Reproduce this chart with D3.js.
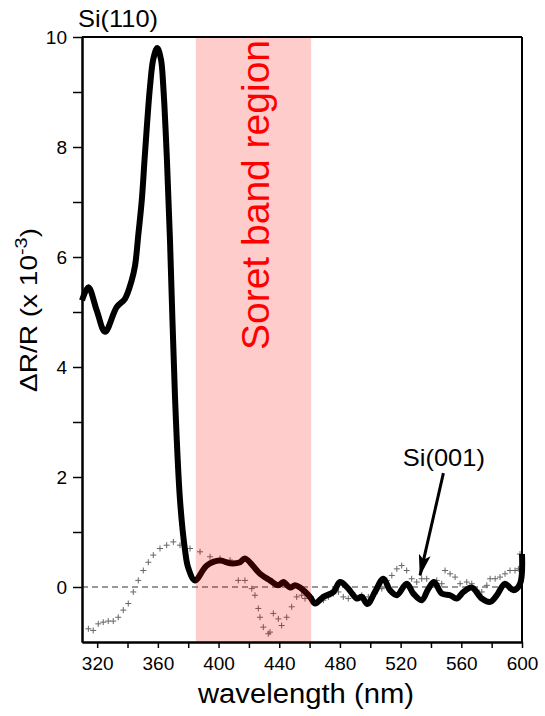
<!DOCTYPE html>
<html>
<head>
<meta charset="utf-8">
<script src="https://d3js.org/d3.v7.min.js"></script>
<style>
  body { margin: 0; background: #fff; }
  text { font-family: Arial, "Liberation Sans", sans-serif; }
</style>
</head>
<body>
<svg id="chart" width="545" height="716"></svg>
<script>
// Si(110) spectrum (thick black line)
var si110Wl  = [310, 314.2, 319.7, 325.2, 332.9, 338.3, 342.8, 345, 347.1, 349.4, 351.5, 354.8, 357, 359.6, 362, 363.6, 365.8, 368, 371.3, 374.6, 377.9, 380, 384.5,
                392.2, 401, 407.6, 414.2, 417.4, 427.3, 433.9, 439.4, 442.7, 447.1, 450.4, 453.7, 460.3,
                463.6, 469.1, 475.7, 480.1, 485.5, 491.1, 494.4, 498.1, 503.1, 508.6, 513, 517.5, 524, 528.4, 533.9, 538.3, 542, 547.1,
                552.6, 557, 561.4, 566.9, 573.5, 579, 583.4, 588.8, 594.3, 598.7, 600];
var si110Val = [5.21, 5.45, 5.03, 4.64, 5.09, 5.24, 5.58, 5.85, 6.4, 7.03, 7.88, 9.09, 9.6, 9.8, 9.6, 9.09, 7.88, 6.3, 3.45, 1.58, 0.67, 0.35, 0.12,
                0.39, 0.48, 0.43, 0.45, 0.52, 0.24, 0.12, 0.03, 0.09, -0.01, 0.03, -0.01, -0.18,
                -0.30, -0.18, -0.09, 0.09, -0.03, -0.21, -0.18, -0.31, -0.09, 0.15, -0.06, -0.15, 0.06, -0.12, -0.24, -0.03, 0.09, -0.12,
                -0.15, -0.21, -0.09, -0.01, -0.21, -0.27, -0.15, 0.06, -0.06, 0.06, 0.6];

// Si(001) spectrum (grey crosses)
var si001Wl  = [314.2, 317.4, 320.7, 324.0, 327.3, 330.6, 333.9, 337.2, 340.5, 343.8, 347.1, 350.4, 353.7, 357.0, 361.4, 365.8, 370.2, 374.6,
                381.2, 387.8, 394.4, 401.0, 407.6, 413.0, 417.4, 421.9, 424.0, 426.2, 427.3, 429.5, 432.8, 433.9, 436.1, 439.4, 441.6,
                444.9, 448.2, 451.5, 454.8, 457.0, 461, 465.8, 469.1, 472.4, 475.7, 479.0, 482.2, 485.5, 489.9, 494.4, 498.7, 503.1,
                507.6, 510.9, 514.2, 517.5, 520.7, 524.0, 527.3, 530.6, 533.9, 537.2, 543.8, 547.1, 549.3, 552.6, 555.9, 559.2, 563.6,
                566.9, 570.2, 573.5, 576.8, 579.0, 582.3, 585.5, 588.8, 592.1, 595.4, 597.6, 598.7];
var si001Val = [-0.76, -0.79, -0.67, -0.64, -0.62, -0.62, -0.55, -0.42, -0.30, -0.09, 0.12, 0.30, 0.45, 0.58, 0.70, 0.76, 0.82, 0.76,
                0.70, 0.64, 0.55, 0.52, 0.49, 0.12, 0.12, -0.03, -0.15, -0.39, -0.55, -0.73, -0.85, -0.82, -0.48, -0.58, -0.70,
                -0.55, -0.36, -0.18, -0.15, -0.21, -0.18, -0.24, -0.24, -0.18, -0.12, -0.09, -0.18, -0.21, -0.15, -0.15, -0.18, -0.12,
                -0.03, 0.12, 0.21, 0.33, 0.39, 0.30, 0.15, 0.09, 0.15, 0.15, 0.12, 0.06, 0.30, 0.24, 0.18, 0.06, 0.09,
                0.06, -0.06, -0.09, 0.03, 0.15, 0.15, 0.18, 0.24, 0.30, 0.30, 0.33, 0.6];

var xTicks = [320, 360, 400, 440, 480, 520, 560, 600];
var xMinor = [340, 380, 420, 460, 500, 540, 580];
var yTicks = [0, 2, 4, 6, 8, 10];
var yMinor = [1, 3, 5, 7, 9];
var soretBand = [385, 461];
// arrow for the Si(001) label: [wavelength, value] of tail and tip
var arrowTail = [548.2, 2.07], arrowTip = [532.8, 0.21];

var margin = {left: 82, top: 37, right: 23, bottom: 74};
var W = 545 - margin.left - margin.right,
    H = 716 - margin.top - margin.bottom;

var svg = d3.select("#chart");
var g = svg.append("g").attr("transform", "translate(" + margin.left + "," + margin.top + ")");

var x = d3.scaleLinear().domain([310, 600]).range([0, W]);
var y = d3.scaleLinear().domain([-1, 10]).range([H, 0]);

// zero line
g.append("line")
    .attr("x1", 0).attr("x2", W)
    .attr("y1", y(0)).attr("y2", y(0))
    .attr("stroke", "#333").attr("stroke-width", 1.2)
    .attr("stroke-dasharray", "6,4");

// Si(001) crosses
g.append("g").selectAll("path")
    .data(si001Wl.map(function(w, i) { return [w, si001Val[i]]; }))
    .enter().append("path")
    .attr("transform", function(d) { return "translate(" + x(d[0]) + "," + y(d[1]) + ")"; })
    .attr("d", "M-3,0H3M0,-3V3")
    .attr("stroke", "#666").attr("stroke-width", 1);

// Si(110) thick line
var line = d3.line()
    .x(function(d) { return x(d[0]); })
    .y(function(d) { return y(d[1]); })
    .curve(d3.curveCatmullRom.alpha(0.5));

g.append("path")
    .datum(si110Wl.map(function(w, i) { return [w, si110Val[i]]; }))
    .attr("d", line)
    .attr("fill", "none")
    .attr("stroke", "#000")
    .attr("stroke-width", 6)
    .attr("stroke-linejoin", "round");

// Soret band on top (tints the line dark red)
g.append("rect")
    .attr("x", x(soretBand[0])).attr("y", 0)
    .attr("width", x(soretBand[1]) - x(soretBand[0])).attr("height", H)
    .attr("fill", "#ff0000").attr("fill-opacity", 0.2);

g.append("text")
    .attr("transform", "translate(" + (x((soretBand[0] + soretBand[1]) / 2) + 16) + ",158) rotate(-90)")
    .attr("text-anchor", "middle")
    .attr("fill", "#ff0000")
    .style("font-size", "39px")
    .text("Soret band region");

// axes
g.append("g").attr("transform", "translate(0," + H + ")")
    .call(d3.axisBottom(x).tickValues(xTicks).tickSize(6).tickPadding(9).tickSizeOuter(0));
g.append("g").attr("transform", "translate(0," + H + ")")
    .call(d3.axisBottom(x).tickValues(xMinor).tickSize(6).tickFormat("").tickSizeOuter(0));
g.append("g")
    .call(d3.axisLeft(y).tickValues(yTicks).tickSize(9).tickPadding(6).tickSizeOuter(0));
g.append("g")
    .call(d3.axisLeft(y).tickValues(yMinor).tickSize(9).tickFormat("").tickSizeOuter(0));

g.selectAll(".domain").attr("stroke", "#000").attr("stroke-width", 2);
g.selectAll(".tick line").attr("stroke", "#000").attr("stroke-width", 1.5);
g.selectAll(".tick text").style("font-size", "19px").style("font-family", "Arial, 'Liberation Sans', sans-serif").attr("fill", "#000");

// frame top and right
g.append("line").attr("x1", 0).attr("x2", W).attr("y1", 0).attr("y2", 0)
    .attr("stroke", "#000").attr("stroke-width", 2);
g.append("line").attr("x1", W).attr("x2", W).attr("y1", 0).attr("y2", H)
    .attr("stroke", "#000").attr("stroke-width", 2);

// titles
svg.append("text")
    .attr("x", 78).attr("y", 27)
    .style("font-size", "24px")
    .attr("textLength", 80).attr("lengthAdjust", "spacingAndGlyphs")
    .text("Si(110)");

svg.append("text")
    .attr("x", 306).attr("y", 703)
    .attr("text-anchor", "middle")
    .style("font-size", "27px")
    .attr("textLength", 216).attr("lengthAdjust", "spacingAndGlyphs")
    .text("wavelength (nm)");

var yl = svg.append("text")
    .attr("transform", "translate(37,310) rotate(-90)")
    .attr("text-anchor", "middle")
    .style("font-size", "24px")
    .attr("textLength", 164).attr("lengthAdjust", "spacingAndGlyphs");
yl.append("tspan").text("\u0394R/R (x 10");
yl.append("tspan").attr("dy", -10).style("font-size", "17px").text("-3");
yl.append("tspan").attr("dy", 10).text(")");

// Si(001) annotation
svg.append("defs").append("marker")
    .attr("id", "arrowhead")
    .attr("viewBox", "0 0 22 12")
    .attr("refX", 21).attr("refY", 6)
    .attr("markerUnits", "userSpaceOnUse")
    .attr("markerWidth", 22).attr("markerHeight", 12)
    .attr("orient", "auto")
    .append("path").attr("d", "M0,0L22,6L0,12L5,6z").attr("fill", "#000");
g.append("line")
    .attr("x1", x(arrowTail[0])).attr("y1", y(arrowTail[1]))
    .attr("x2", x(arrowTip[0])).attr("y2", y(arrowTip[1]))
    .attr("stroke", "#000").attr("stroke-width", 3)
    .attr("marker-end", "url(#arrowhead)");
g.append("text")
    .attr("x", x(548.5)).attr("y", y(2.2))
    .attr("text-anchor", "middle")
    .style("font-size", "24px")
    .attr("textLength", 82).attr("lengthAdjust", "spacingAndGlyphs")
    .text("Si(001)");
</script>
</body>
</html>
